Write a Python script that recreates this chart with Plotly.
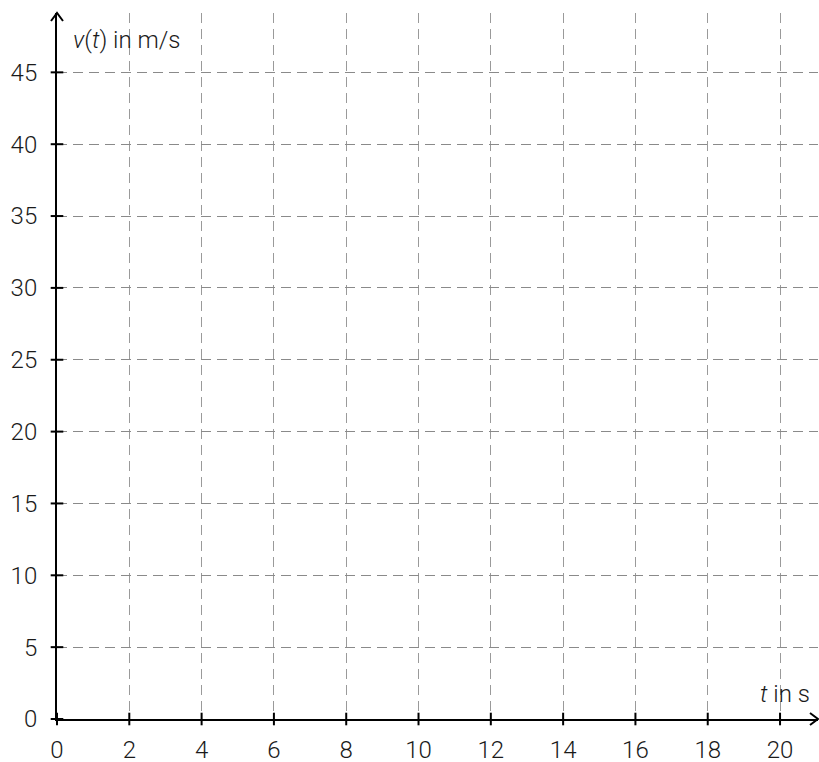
import plotly.graph_objects as go

# Data / axis definitions
x_ticks = [0, 2, 4, 6, 8, 10, 12, 14, 16, 18, 20]
y_ticks = [0, 5, 10, 15, 20, 25, 30, 35, 40, 45]
x_range = [0, 21.05]
y_range = [0, 49.13]
x_title = "<i>t</i> in s"
y_title = "<i>v</i>(<i>t</i>) in m/s"

FONT = dict(family="Roboto, Liberation Sans, Arial", size=24, color="#1a1a1a", weight=300)

fig = go.Figure()

# tick marks crossing the axes
fig.add_trace(go.Scatter(x=x_ticks, y=[0] * len(x_ticks), mode="markers",
                         marker=dict(symbol="line-ns", size=9, line=dict(color="black", width=2)),
                         cliponaxis=False, hoverinfo="skip", showlegend=False))
fig.add_trace(go.Scatter(x=[0] * len(y_ticks), y=y_ticks, mode="markers",
                         marker=dict(symbol="line-ew", size=9, line=dict(color="black", width=2)),
                         cliponaxis=False, hoverinfo="skip", showlegend=False))

# arrow heads (pixel-sized, anchored on the axis ends)
fig.add_shape(type="path", xref="x domain", yref="y domain",
              xsizemode="pixel", ysizemode="pixel", xanchor=0, yanchor=1,
              path="M -6 -8 L 0 0 L 6 -8",
              line=dict(color="black", width=2), layer="above")
fig.add_shape(type="path", xref="x domain", yref="y domain",
              xsizemode="pixel", ysizemode="pixel", xanchor=1, yanchor=0,
              path="M -8 6 L 0 0 L -8 -6",
              line=dict(color="black", width=2), layer="above")

fig.update_xaxes(range=x_range, tickvals=x_ticks, ticks="", showline=True,
                 linecolor="black", linewidth=2, showgrid=True, gridcolor="#9a9a9a",
                 gridwidth=1, griddash="10px,6px", zeroline=False, automargin=False,
                 tickfont=FONT, ticklabelstandoff=8, fixedrange=True)
fig.update_yaxes(range=y_range, tickvals=y_ticks, ticks="", showline=True,
                 linecolor="black", linewidth=2, showgrid=True, gridcolor="#8a8a8a",
                 gridwidth=1, griddash="10px,6px", zeroline=False, automargin=False,
                 tickfont=FONT, ticklabelstandoff=13, fixedrange=True)

fig.add_annotation(x=0, y=1, xref="x domain", yref="y domain", text=y_title, showarrow=False,
                   xanchor="left", yanchor="middle", xshift=14, yshift=-27, font=FONT)
fig.add_annotation(x=1, y=0, xref="x domain", yref="y domain", text=x_title, showarrow=False,
                   xanchor="right", yanchor="middle", xshift=-6, yshift=25, font=FONT)

fig.update_layout(width=819, height=762, margin=dict(l=57, r=1, t=13, b=43, autoexpand=False),
                  plot_bgcolor="white", paper_bgcolor="white", showlegend=False)

fig.write_html("out.html", config={"displayModeBar": False},
               post_script="document.body.style.margin='0';document.body.style.overflow='hidden';")
